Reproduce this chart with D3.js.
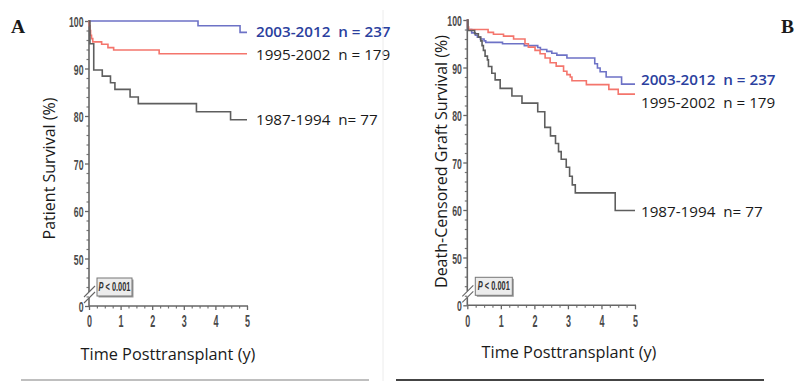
<!DOCTYPE html>
<html><head><meta charset="utf-8">
<script src="https://cdn.jsdelivr.net/npm/d3@7"></script>
<style>
body{margin:0;background:#fff}
svg{display:block}
</style></head><body>
<svg id="c" width="811" height="381"></svg>
<script>
// ---------------- data ----------------
const xTicks = [0, 1, 2, 3, 4, 5];
const yTicks = [0, 50, 60, 70, 80, 90, 100];
const seriesNames = ["2003-2012", "1995-2002", "1987-1994"];
const seriesN = ["n = 237", "n = 179", "n= 77"];
const pValueText = "< 0.001";

// Panel A: patient survival
const patientT_2003 = [0, 3.45, 4.78, 5.0];
const patientS_2003 = [100, 99.0, 97.6, 97.6];
const patientT_1995 = [0, 0.01, 0.03, 0.05, 0.08, 0.12, 0.40, 0.60, 0.78, 2.22, 5.0];
const patientS_1995 = [100, 99, 98, 97, 96.3, 95.6, 95.1, 94.4, 93.9, 93.1, 93.1];
const patientT_1987 = [0, 0.03, 0.15, 0.42, 0.68, 0.82, 1.30, 1.56, 3.40, 4.48, 5.0];
const patientS_1987 = [100, 95.2, 89.7, 88.4, 87.0, 85.6, 84.0, 82.6, 80.9, 79.2, 79.2];

// Panel B: death-censored graft survival
const graftT_2003 = [0, 0.01, 0.13, 0.24, 0.30, 0.39, 0.50, 0.55, 1.05, 1.70, 2.10, 2.18, 2.37, 2.52, 2.67, 2.97, 3.80, 3.88, 3.96, 4.14, 4.60, 5.0];
const graftS_2003 = [100, 98.0, 97.3, 96.8, 96.4, 96.0, 95.6, 95.3, 95.0, 94.6, 94.2, 93.8, 93.4, 93.0, 92.6, 92.0, 90.8, 89.9, 89.1, 88.0, 86.5, 86.5];
const graftT_1995 = [0, 0.01, 0.04, 0.62, 0.78, 1.08, 1.38, 1.72, 1.82, 2.02, 2.17, 2.32, 2.47, 2.65, 2.87, 2.97, 3.07, 3.12, 3.55, 4.22, 4.50, 5.0];
const graftS_1995 = [100, 98.5, 98.0, 97.4, 97.0, 96.6, 96.0, 95.0, 94.3, 93.6, 92.9, 92.0, 91.0, 90.3, 89.2, 88.5, 88.0, 87.2, 86.4, 85.4, 84.4, 84.4];
const graftT_1987 = [0, 0.02, 0.22, 0.33, 0.40, 0.44, 0.48, 0.53, 0.60, 0.63, 0.73, 0.83, 0.98, 1.33, 1.63, 2.10, 2.31, 2.48, 2.63, 2.72, 2.80, 2.95, 3.05, 3.13, 3.22, 4.41, 5.0];
const graftS_1987 = [100, 97.8, 97.1, 96.4, 95.6, 94.6, 93.6, 92.4, 91.6, 90.2, 88.8, 87.4, 85.6, 84.0, 82.5, 80.7, 77.4, 75.6, 74.0, 72.3, 70.7, 69.0, 67.1, 65.3, 63.6, 59.9, 59.9];

// ---------------- drawing ----------------
const svg = d3.select("#c");
const lineColors = ["#6d72c6", "#f4756c", "#5e5e5e"];
const labelColors = ["#2b3f9e", "#1a1a1a", "#1a1a1a"];
const labelWeights = [600, 400, 400];
const tickFont = "'Liberation Sans', Arial, sans-serif";
const mainFont = "'Open Sans', sans-serif";
const sq = 0.56; // horizontal squeeze of tick-label font

function drawPanel(cfg) {
  const x = d3.scaleLinear().domain([0, 5]).range([cfg.x0, cfg.x5]);
  const y = d3.scaleLinear().domain([0, 50, 100]).range([cfg.y0, cfg.y50, cfg.y100]);
  const g = svg.append("g");

  // y axis minor ticks
  const yMinor = d3.range(10, 50, 10).concat(d3.range(52, 100, 2).filter(v => v % 10 !== 0));
  const yMin = g.append("g").attr("transform", `translate(${cfg.x0},0)`)
    .call(d3.axisLeft(y).tickValues(yMinor).tickSize(2.5).tickFormat(""));
  yMin.select(".domain").remove();
  yMin.selectAll("line").attr("stroke", "#777").attr("stroke-width", 1.2);

  // y axis major
  const yAx = g.append("g").attr("transform", `translate(${cfg.x0},0)`)
    .call(d3.axisLeft(y).tickValues(yTicks).tickSize(4).tickFormat(d3.format("d")));
  yAx.select(".domain").remove();
  yAx.selectAll("line").attr("stroke", "#666").attr("stroke-width", 1.3);
  yAx.selectAll("text")
    .attr("x", -5.5 / sq).attr("dy", "0.36em")
    .attr("transform", `scale(${sq},1)`)
    .attr("fill", "#4a4a4a").attr("font-family", tickFont)
    .attr("font-weight", "bold").attr("font-size", 15.5);

  // x axis minor
  const xMinor = d3.range(0.25, 5, 0.25).filter(v => Math.abs(v - Math.round(v)) > 0.01);
  const xMin = g.append("g").attr("transform", `translate(0,${cfg.y0})`)
    .call(d3.axisBottom(x).tickValues(xMinor).tickSize(2.5).tickFormat(""));
  xMin.select(".domain").remove();
  xMin.selectAll("line").attr("stroke", "#777").attr("stroke-width", 1.2);

  const xAx = g.append("g").attr("transform", `translate(0,${cfg.y0})`)
    .call(d3.axisBottom(x).tickValues(xTicks).tickSize(4).tickPadding(6).tickFormat(d3.format("d")));
  xAx.select(".domain").remove();
  xAx.selectAll("line").attr("stroke", "#666").attr("stroke-width", 1.3);
  xAx.selectAll("text")
    .attr("transform", `scale(${sq},1)`)
    .attr("fill", "#4a4a4a").attr("font-family", tickFont)
    .attr("font-weight", "bold").attr("font-size", 16);

  // axis lines with break
  const bTop = cfg.y0 - 14, bBot = cfg.y0 - 8;
  g.append("line").attr("x1", cfg.x0).attr("x2", cfg.x0).attr("y1", cfg.y100 - 1).attr("y2", bTop)
    .attr("stroke", "#666").attr("stroke-width", 1.6);
  g.append("line").attr("x1", cfg.x0).attr("x2", cfg.x0).attr("y1", bBot).attr("y2", cfg.y0)
    .attr("stroke", "#666").attr("stroke-width", 1.6);
  g.append("line").attr("x1", cfg.x0).attr("x2", cfg.x5 + 1).attr("y1", cfg.y0).attr("y2", cfg.y0)
    .attr("stroke", "#666").attr("stroke-width", 1.6);
  [bTop, bBot].forEach(yy => {
    g.append("line").attr("x1", cfg.x0 - 5).attr("y1", yy + 5).attr("x2", cfg.x0 + 6).attr("y2", yy - 6)
      .attr("stroke", "#666").attr("stroke-width", 1.1);
  });

  // p-value box
  const bx = cfg.x0 + 8, by = cfg.y0 - 28, bw = cfg.boxW, bh = 18;
  g.append("rect").attr("x", bx + 1.5).attr("y", by + 1.5).attr("width", bw).attr("height", bh)
    .attr("fill", "#9a9a9a");
  g.append("rect").attr("x", bx).attr("y", by).attr("width", bw).attr("height", bh)
    .attr("fill", "#ececec").attr("stroke", "#777").attr("stroke-width", 1);
  const pt = g.append("text").attr("transform", `translate(${bx + bw / 2},${by + bh / 2 + 4}) scale(0.62,1)`)
    .attr("text-anchor", "middle").attr("font-family", tickFont).attr("font-weight", "bold")
    .attr("font-size", 12).attr("fill", "#333");
  pt.append("tspan").attr("font-style", "italic").text("P");
  pt.append("tspan").text(" " + pValueText);

  // curves
  const line = d3.line().x(d => x(d[0])).y(d => y(d[1])).curve(d3.curveStepAfter);
  cfg.series.forEach((s, i) => {
    g.append("path").datum(d3.zip(s.t, s.v)).attr("d", line)
      .attr("fill", "none").attr("stroke", lineColors[i]).attr("stroke-width", 1.6);
  });
  // labels
  cfg.series.forEach((s, i) => {
    g.append("text").attr("x", cfg.labelX).attr("y", cfg.labelY[i])
      .attr("font-family", mainFont).attr("font-size", 15.2)
      .attr("font-weight", labelWeights[i]).attr("fill", labelColors[i])
      .style("white-space", "pre")
      .text(seriesNames[i] + "  " + seriesN[i]);
  });

  // axis titles
  g.append("text").attr("x", cfg.xTitleX).attr("y", cfg.xTitleY).attr("text-anchor", "middle")
    .attr("font-family", mainFont).attr("font-size", 16.3).attr("fill", "#1a1a1a")
    .text("Time Posttransplant (y)");
  g.append("text").attr("transform", `translate(${cfg.yTitleX},${cfg.yTitleY}) rotate(-90)`)
    .attr("text-anchor", "middle").attr("font-family", mainFont).attr("font-size", 16)
    .attr("fill", "#1a1a1a").text(cfg.yTitle);

  // panel letter
  g.append("text").attr("x", cfg.letterX).attr("y", 33)
    .attr("font-family", "'Liberation Serif', 'Times New Roman', serif").attr("font-weight", "bold")
    .attr("font-size", 19.5).attr("fill", "#1a1a1a").text(cfg.letter);
}

drawPanel({
  x0: 89, x5: 247, y0: 306, y50: 258.5, y100: 21, boxW: 35,
  series: [
    {t: patientT_2003, v: patientS_2003},
    {t: patientT_1995, v: patientS_1995},
    {t: patientT_1987, v: patientS_1987}
  ],
  labelX: 256, labelY: [37, 59.5, 125],
  xTitleX: 168, xTitleY: 360, yTitleX: 55, yTitleY: 168.5,
  yTitle: "Patient Survival (%)", letter: "A", letterX: 11
});

drawPanel({
  x0: 467.3, x5: 635, y0: 305.3, y50: 257.5, y100: 20, boxW: 37,
  series: [
    {t: graftT_2003, v: graftS_2003},
    {t: graftT_1995, v: graftS_1995},
    {t: graftT_1987, v: graftS_1987}
  ],
  labelX: 641, labelY: [85, 108, 217],
  xTitleX: 569, xTitleY: 358, yTitleX: 447, yTitleY: 161.5,
  yTitle: "Death-Censored Graft Survival (%)", letter: "B", letterX: 781
});

// divider and bottom rules
svg.append("line").attr("x1", 383).attr("x2", 383).attr("y1", 10).attr("y2", 381)
  .attr("stroke", "#ececec").attr("stroke-width", 1);
svg.append("line").attr("x1", 21).attr("x2", 369).attr("y1", 380).attr("y2", 380)
  .attr("stroke", "#aaa").attr("stroke-width", 1.5);
svg.append("line").attr("x1", 396).attr("x2", 764).attr("y1", 380).attr("y2", 380)
  .attr("stroke", "#444").attr("stroke-width", 2);
</script>
</body></html>
